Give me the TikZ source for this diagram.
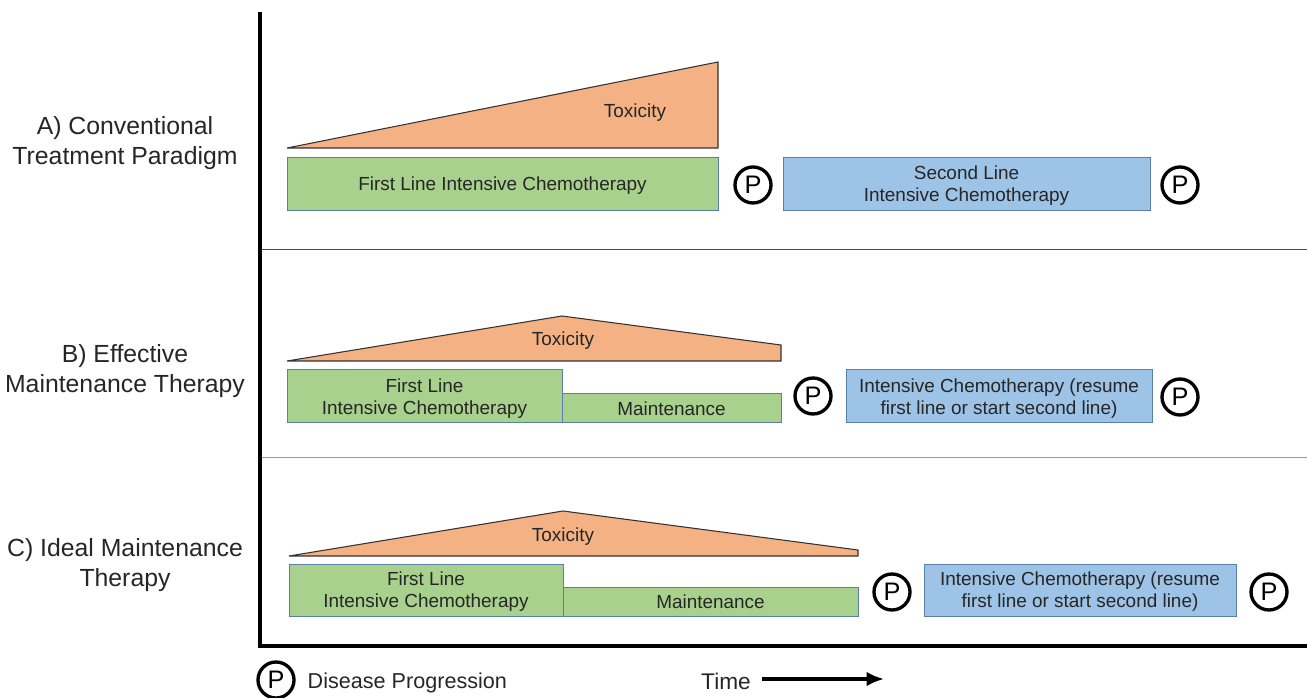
\documentclass[tikz,border=0pt]{standalone}
\usepackage{fontspec}
\setmainfont{Liberation Sans}
\usetikzlibrary{arrows.meta}
\definecolor{tox}{HTML}{F4B183}
\definecolor{grn}{HTML}{A9D18E}
\definecolor{blu}{HTML}{9DC3E6}
\definecolor{edg}{HTML}{5A7FA8}
\definecolor{txt}{HTML}{262626}
\tikzset{
  bar/.style={draw=edg, line width=0.75pt, inner sep=0pt, outer sep=0pt, align=center, text=txt, text depth=0pt, font=\fontsize{14.2}{16.5}\selectfont},
  gbar/.style={bar, fill=grn},
  bbar/.style={bar, fill=blu},
  toxshape/.style={draw=black!80, line width=0.8pt, fill=tox},
  toxlbl/.style={text=txt, font=\fontsize{14.2}{16.5}\selectfont},
  prog/.style={circle, draw=black, line width=2.5pt, minimum size=27pt, inner sep=0pt, font=\fontsize{19}{21}\selectfont},
  rowlbl/.style={align=center, text=txt, font=\fontsize{18.6}{22}\selectfont},
  legend/.style={text=txt, font=\fontsize{16.2}{19}\selectfont}
}
\begin{document}
\begin{tikzpicture}[x=0.75pt,y=-0.75pt]
\useasboundingbox (0,0) rectangle (1307,698);
% axes and separators
\draw[line width=0.6pt, black!70] (260,249) -- (1307,249);
\draw[line width=0.5pt, black!40] (260,457) -- (1307,457);
\draw[line width=2.8pt, line cap=rect] (260,14) -- (260,646) -- (1307,646);

% Row labels
\node[rowlbl] (la) at (125,143) {A) Conventional\\Treatment Paradigm};
\node[rowlbl] (lb) at (125,371) {B) Effective\\Maintenance Therapy};
\node[rowlbl] (lc) at (125,565) {C) Ideal Maintenance\\Therapy};

% Panel A
\draw[toxshape] (287,148) -- (718,62) -- (718,148) -- cycle;
\node[toxlbl] (ta) at (635,113) {Toxicity};
\node[gbar, minimum width=323.25pt, minimum height=39.75pt] (ga) at (502.5,184) {First Line Intensive Chemotherapy};
\node[prog] (pa1) at (753,185) {P};
\node[bbar, minimum width=275.25pt, minimum height=39.75pt] (ba) at (966.5,184) {Second Line\\Intensive Chemotherapy};
\node[prog] (pa2) at (1180,185) {P};

% Panel B
\draw[toxshape] (287,361) -- (562,316) -- (781,345) -- (781,361) -- cycle;
\node[toxlbl] (tb) at (563,341) {Toxicity};
\node[gbar, minimum width=206.25pt, minimum height=39.75pt] (gb) at (424.5,396.5) {First Line\\Intensive Chemotherapy};
\node[gbar, minimum width=164.25pt, minimum height=21.75pt] (mb) at (671.5,408.5) {Maintenance};
\node[prog] (pb1) at (813,396) {P};
\node[bbar, minimum width=229.5pt, minimum height=39.75pt] (bb) at (999,396.5) {Intensive Chemotherapy (resume\\first line or start second line)};
\node[prog] (pb2) at (1180,397) {P};

% Panel C
\draw[toxshape] (289,556) -- (563,511) -- (858,550) -- (858,556) -- cycle;
\node[toxlbl] (tc) at (563,537) {Toxicity};
\node[gbar, minimum width=205.5pt, minimum height=39pt] (gc) at (426,590) {First Line\\Intensive Chemotherapy};
\node[gbar, minimum width=221.25pt, minimum height=21.75pt] (mc) at (710.5,601.5) {Maintenance};
\node[prog] (pc1) at (892,592) {P};
\node[bbar, minimum width=234pt, minimum height=39pt] (bc) at (1080,590) {Intensive Chemotherapy (resume\\first line or start second line)};
\node[prog] (pc2) at (1269,592) {P};

% Legend
\node[prog] (pl) at (276,680) {P};
\node[legend, anchor=west] (dl) at (303,683) {Disease Progression};
\node[legend, font=\fontsize{17}{19}\selectfont] (tl) at (726,681) {Time};
\coordinate (ts) at (762,679);
\coordinate (te) at (884,679);
\draw[line width=2.6pt, -{Latex[length=13pt,width=11pt]}] (ts) -- (te);
\end{tikzpicture}
\end{document}
